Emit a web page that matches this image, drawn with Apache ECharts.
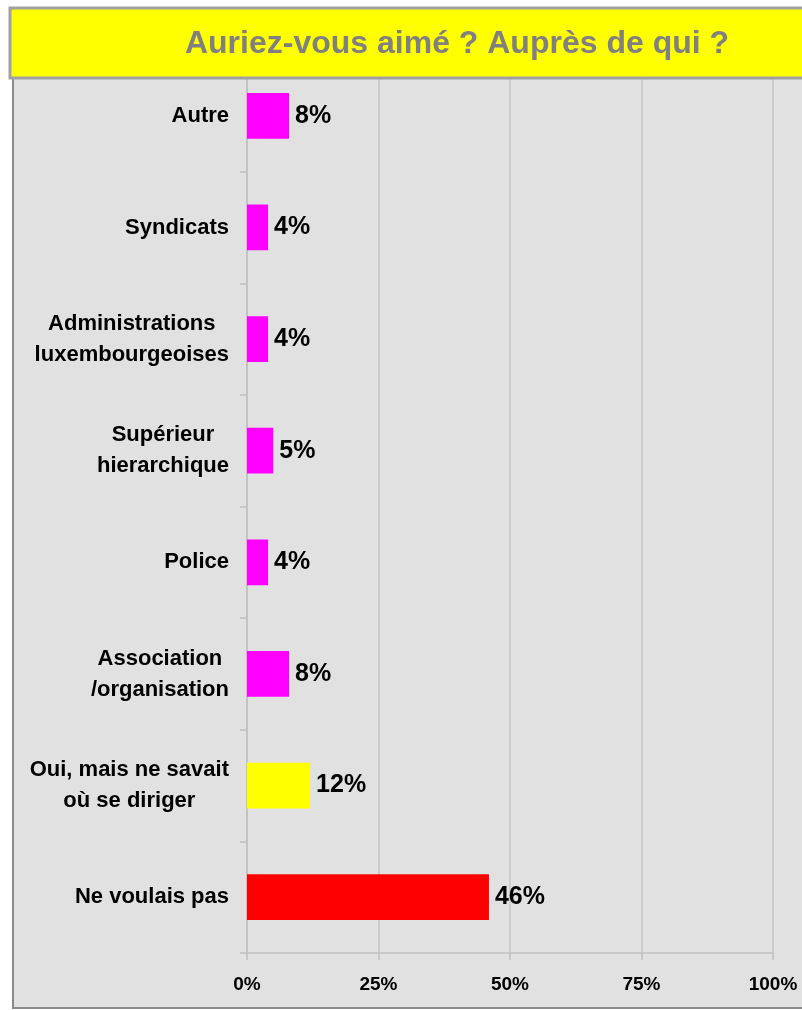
<!DOCTYPE html>
<html>
<head>
<meta charset="utf-8">
<script src="https://cdn.jsdelivr.net/npm/echarts@6/dist/echarts.min.js"></script>
<style>
html,body{margin:0;padding:0;background:#fff;}
#chart{width:802px;height:1010px;}
</style>
</head>
<body>
<div id="chart"></div>
<script>
// Data (bottom to top order for the category axis)
var titleText = 'Auriez-vous aimé ? Auprès de qui ?';
var categories = [
  'Ne voulais pas',
  'Oui, mais ne savait\noù se diriger',
  'Association\n/organisation',
  'Police',
  'Supérieur\nhierarchique',
  'Administrations\nluxembourgeoises',
  'Syndicats',
  'Autre'
];
var values = [46, 12, 8, 4, 5, 4, 4, 8];
var barColors = ['#ff0000', '#ffff00', '#ff00ff', '#ff00ff', '#ff00ff', '#ff00ff', '#ff00ff', '#ff00ff'];
var xTicks = [0, 25, 50, 75, 100];

var FONT = '"Liberation Sans", Arial, Helvetica, sans-serif';

var chart = echarts.init(document.getElementById('chart'), null, {renderer: 'canvas'});

var option = {
  backgroundColor: '#ffffff',
  animation: false,
  textStyle: {fontFamily: FONT},
  grid: {left: 247, right: 29, top: 60, bottom: 57, containLabel: false},
  xAxis: {
    type: 'value',
    min: xTicks[0],
    max: xTicks[xTicks.length - 1],
    interval: xTicks[1] - xTicks[0],
    axisLine: {show: true, lineStyle: {color: '#c0c0c0', width: 1.5}},
    axisTick: {show: true, length: 7, lineStyle: {color: '#c0c0c0', width: 1.5}},
    splitLine: {show: true, lineStyle: {color: '#c4c4c4', width: 1.5}},
    axisLabel: {
      formatter: '{value}%',
      margin: 22,
      color: '#000',
      fontSize: 19,
      fontWeight: 'bold',
      fontFamily: FONT
    }
  },
  yAxis: {
    type: 'category',
    data: categories,
    axisLine: {show: true, lineStyle: {color: '#c0c0c0', width: 1.5}},
    axisTick: {show: true, length: 7, lineStyle: {color: '#c0c0c0', width: 1.5}},
    splitLine: {show: false},
    axisLabel: {
      margin: 18,
      align: 'right',
      formatter: function (v) {
        return v.split('\n').map(function (s) { return '{c|' + s + '}'; }).join('\n');
      },
      rich: {
        c: {
          align: 'center',
          fontSize: 22,
          fontWeight: 'bold',
          color: '#000',
          lineHeight: 31,
          fontFamily: FONT
        }
      }
    }
  },
  series: [{
    type: 'bar',
    data: values.map(function (v, i) { return {value: v, itemStyle: {color: barColors[i]}}; }),
    barWidth: '41%',
    label: {
      show: true,
      position: 'right',
      distance: 6,
      formatter: '{c}%',
      color: '#000',
      fontSize: 25,
      fontWeight: 'bold',
      fontFamily: FONT
    }
  }],
  graphic: [
    {
      type: 'rect',
      z: -100,
      silent: true,
      shape: {x: 13, y: 60, width: 800, height: 948},
      style: {fill: '#e1e1e1', stroke: '#8a8a8a', lineWidth: 2}
    },
    {
      type: 'rect',
      z: 100,
      silent: true,
      shape: {x: 10, y: 8, width: 800, height: 70},
      style: {fill: '#ffff00', stroke: '#a0a0a0', lineWidth: 3}
    },
    {
      type: 'text',
      z: 101,
      silent: true,
      x: 457,
      y: 44,
      style: {
        text: titleText,
        fill: '#808080',
        font: 'bold 32px ' + FONT,
        textAlign: 'center',
        textVerticalAlign: 'middle',
        verticalAlign: 'middle'
      }
    }
  ]
};
chart.setOption(option);
</script>
</body>
</html>
